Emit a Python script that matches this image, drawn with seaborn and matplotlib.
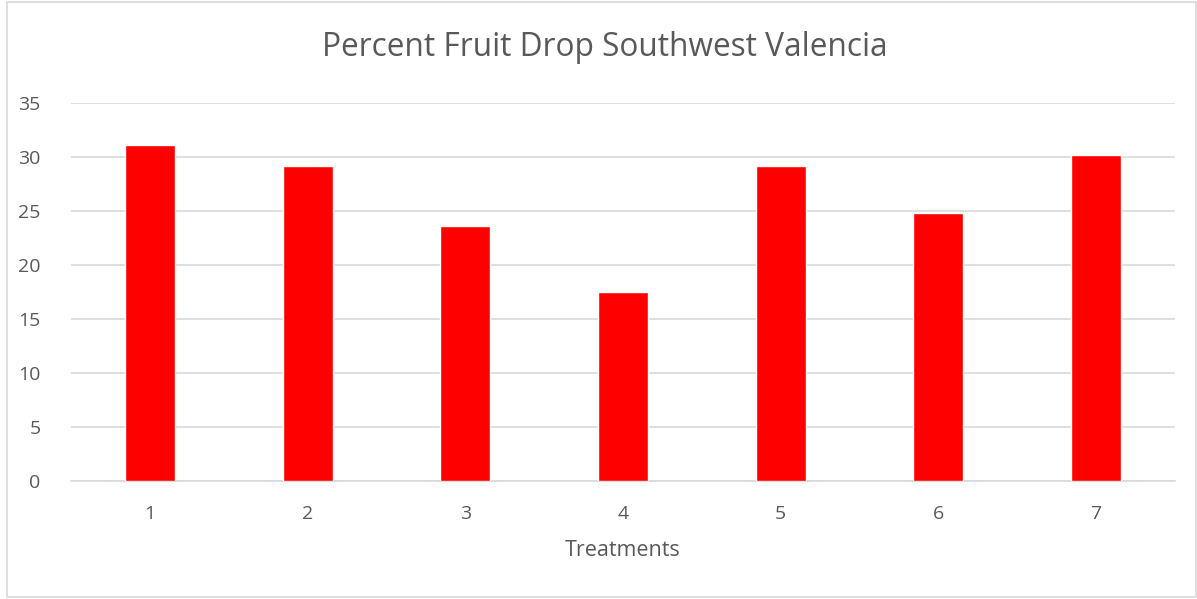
import matplotlib
matplotlib.use("Agg")
import matplotlib.pyplot as plt
import seaborn as sns
import pandas as pd
from matplotlib.patches import Rectangle

treatments = ["1", "2", "3", "4", "5", "6", "7"]
fruit_drop = [31.1, 29.1, 23.6, 17.5, 29.1, 24.8, 30.15]
y_ticks = [0, 5, 10, 15, 20, 25, 30, 35]

df = pd.DataFrame({"Treatment": treatments, "Drop": fruit_drop})

sns.set_theme(style="white")
plt.rcParams["font.family"] = ["Open Sans", "DejaVu Sans"]

fig = plt.figure(figsize=(11.97, 5.99), dpi=100)
ax = fig.add_axes([71/1197, 1 - 481.3/599, (1175 - 71)/1197, (481.3 - 102.5)/599])

sns.barplot(data=df, x="Treatment", y="Drop", color="#FF0000", saturation=1,
            width=0.317, ax=ax, zorder=3)

ax.set_ylim(0, 35)
ax.set_xlim(-0.5, 6.5)
ax.set_yticks(y_ticks)
ax.set_yticklabels([str(t) for t in y_ticks])
ax.yaxis.grid(True, color="#D9D9D9", linewidth=1.2, zorder=0)
ax.set_axisbelow(True)
for s in ["top", "right", "left"]:
    ax.spines[s].set_visible(False)
ax.spines["bottom"].set_color("#D9D9D9")
ax.spines["bottom"].set_linewidth(1.2)
ax.tick_params(axis="both", length=0, labelsize=14, labelcolor="#595959")
ax.tick_params(axis="y", pad=22)
ax.tick_params(axis="x", pad=17)
ax.set_ylabel("")
ax.set_xlabel("Treatments", fontsize=15.5, color="#595959", labelpad=12)

fig.text(605/1197, 1 - 48/599, "Percent Fruit Drop Southwest Valencia", ha="center", va="center",
         fontsize=22.8, color="#595959")

fig.patches.append(Rectangle((7/1197, 2/599), 1 - 8/1197, 1 - 4/599, transform=fig.transFigure,
                             fill=False, edgecolor="#D9D9D9", linewidth=1.2))

fig.savefig("out.png", dpi=100)
